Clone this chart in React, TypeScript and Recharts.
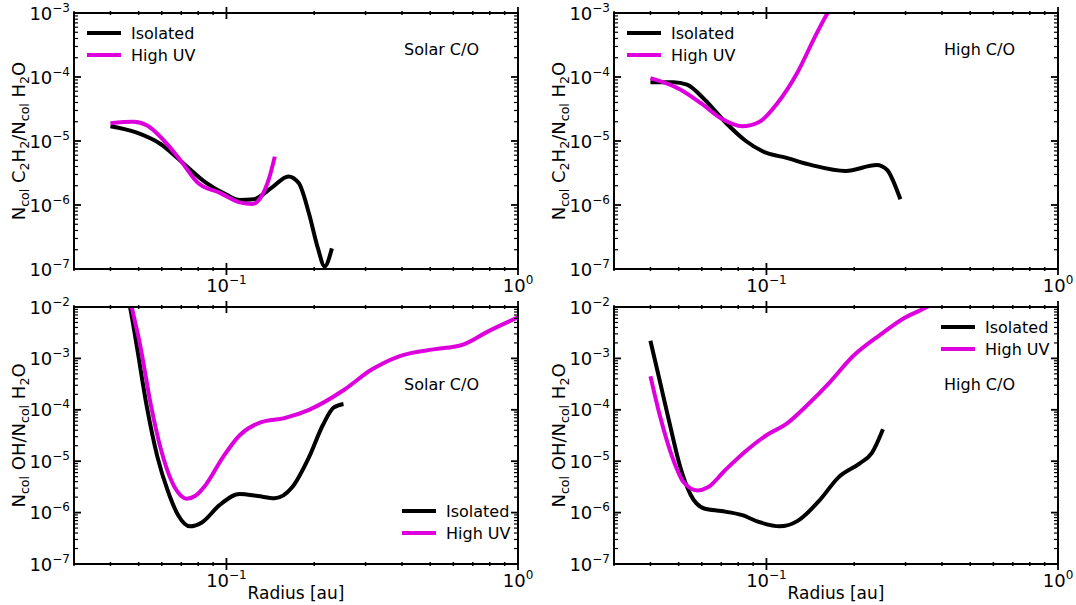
import React from "react";
import { LineChart, Line, XAxis, YAxis, Legend } from "recharts";

// radius [au] and column density ratios
// top left: C2H2 / H2O, solar C/O
const c2h2SolarIsoR = [0.04, 0.049, 0.0596, 0.07, 0.085, 0.1, 0.111, 0.124, 0.143, 0.163, 0.177, 0.192, 0.206, 0.217, 0.23];
const c2h2SolarIsoV = [1.7e-5, 1.36e-5, 8.9e-6, 4.8e-6, 2.24e-6, 1.45e-6, 1.2e-6, 1.23e-6, 1.87e-6, 2.8e-6, 2.2e-6, 7.3e-7, 2.1e-7, 1.1e-7, 2.1e-7];
const c2h2SolarUvR = [0.04, 0.048, 0.0535, 0.0612, 0.07, 0.08, 0.095, 0.111, 0.123, 0.131, 0.14, 0.1465];
const c2h2SolarUvV = [1.9e-5, 2.0e-5, 1.74e-5, 1.0e-5, 4.8e-6, 2.2e-6, 1.55e-6, 1.1e-6, 1.04e-6, 1.3e-6, 2.6e-6, 5.7e-6];

// top right: C2H2 / H2O, high C/O
const c2h2HighIsoR = [0.04, 0.048, 0.0534, 0.0612, 0.072, 0.085, 0.097, 0.118, 0.143, 0.187, 0.239, 0.26, 0.274, 0.288];
const c2h2HighIsoV = [8.3e-5, 8.3e-5, 7.6e-5, 4.5e-5, 2.0e-5, 1.0e-5, 6.9e-6, 5.4e-6, 4.2e-6, 3.4e-6, 4.2e-6, 3.5e-6, 2.2e-6, 1.23e-6];
const c2h2HighUvR = [0.04, 0.0506, 0.0596, 0.07, 0.0826, 0.0947, 0.109, 0.128, 0.1465, 0.162, 0.173];
const c2h2HighUvV = [9.6e-5, 6.4e-5, 3.9e-5, 2.24e-5, 1.7e-5, 2.0e-5, 3.9e-5, 1.2e-4, 4.2e-4, 1e-3, 1.65e-3];

// bottom left: OH / H2O, solar C/O
const ohSolarIsoR = [0.045, 0.0467, 0.0492, 0.0534, 0.058, 0.063, 0.0683, 0.075, 0.0826, 0.0947, 0.111, 0.128, 0.1465, 0.168, 0.192, 0.214, 0.233, 0.252];
const ohSolarIsoV = [2.5e-2, 1e-2, 1.8e-3, 1.1e-4, 1.2e-5, 2.6e-6, 8.9e-7, 5.4e-7, 6.5e-7, 1.4e-6, 2.3e-6, 2.1e-6, 1.9e-6, 3.1e-6, 1.2e-5, 5.0e-5, 1.1e-4, 1.3e-4];
const ohSolarUvR = [0.0455, 0.0473, 0.0506, 0.055, 0.0596, 0.0647, 0.07, 0.073, 0.078, 0.085, 0.0973, 0.111, 0.131, 0.158, 0.192, 0.252, 0.314, 0.391, 0.513, 0.638, 0.793, 1.0];
const ohSolarUvV = [2.5e-2, 1e-2, 1.8e-3, 1.28e-4, 1.7e-5, 4.2e-6, 2.1e-6, 1.86e-6, 2.1e-6, 3.5e-6, 1.2e-5, 3.2e-5, 5.7e-5, 6.9e-5, 1.0e-4, 2.4e-4, 6.0e-4, 1.1e-3, 1.5e-3, 1.8e-3, 3.4e-3, 6.3e-3];

// bottom right: OH / H2O, high C/O
const ohHighIsoR = [0.04, 0.043, 0.0467, 0.0506, 0.055, 0.0612, 0.07, 0.0826, 0.0947, 0.111, 0.128, 0.151, 0.177, 0.209, 0.23, 0.251];
const ohHighIsoV = [2.2e-3, 3.8e-4, 5.0e-5, 7.8e-6, 2.2e-6, 1.2e-6, 1.07e-6, 8.9e-7, 6.5e-7, 5.4e-7, 6.9e-7, 1.65e-6, 4.9e-6, 9.1e-6, 1.45e-5, 4.2e-5];
const ohHighUvR = [0.04, 0.043, 0.0479, 0.052, 0.058, 0.063, 0.072, 0.085, 0.1, 0.118, 0.139, 0.163, 0.198, 0.246, 0.297, 0.355, 0.4];
const ohHighUvV = [4.5e-4, 8.1e-5, 1.07e-5, 3.9e-6, 2.7e-6, 3.1e-6, 6.6e-6, 1.58e-5, 3.2e-5, 5.5e-5, 1.28e-4, 3.2e-4, 1.1e-3, 2.9e-3, 6.1e-3, 1e-2, 1.5e-2];

const xMajors = [0.01, 0.1, 1];
const c2h2Majors = [1e-7, 1e-6, 1e-5, 1e-4, 1e-3];
const ohMajors = [1e-7, 1e-6, 1e-5, 1e-4, 1e-3, 1e-2];

const seriesNames = ["Isolated", "High UV"];
const seriesColors = ["#000000", "#dd00dd"];

const zip = (r: number[], v: number[]) => r.map((x, i) => ({ x, y: v[i] }));

// majors plus the 2..9 minors in between, kept inside [lo, hi]
const logTicks = (majors: number[], lo: number, hi: number) => {
  const out: number[] = [];
  majors.forEach((m, i) => {
    out.push(m);
    if (i < majors.length - 1) for (let k = 2; k <= 9; k++) out.push(+(m * k).toPrecision(3));
  });
  return out.filter((t) => t >= lo * 0.9999 && t <= hi * 1.0001);
};

const isMajor = (v: number) => Math.abs(Math.log10(v) - Math.round(Math.log10(v))) < 1e-6;
const expOf = (v: number) => {
  const e = Math.round(Math.log10(v));
  return e < 0 ? "\u2212" + Math.abs(e) : String(e);
};

const TICK_FS = 18;
const SUP_FS = 12;
const TEXT_FS = 16;
const PLOT_BOTTOM = 269;

const LeftTick = ({ x, y, payload }: any) => {
  const major = isMajor(payload.value);
  return (
    <g>
      <line x1={x} x2={x + (major ? 7 : 4)} y1={y} y2={y} stroke="#000" strokeWidth={major ? 1.8 : 1.2} />
      {major && (
        <text x={x - 4} y={y + 6.5} textAnchor="end" fontSize={TICK_FS} fill="#000">
          10<tspan dy={-8} fontSize={SUP_FS}>{expOf(payload.value)}</tspan>
        </text>
      )}
    </g>
  );
};

const RightTick = ({ x, y, payload }: any) => {
  const major = isMajor(payload.value);
  return <line x1={x} x2={x - (major ? 7 : 4)} y1={y} y2={y} stroke="#000" strokeWidth={major ? 1.8 : 1.2} />;
};

const BottomTick = ({ x, y, payload }: any) => {
  const major = isMajor(payload.value);
  const h = major ? 6 : 2;
  return (
    <g>
      <line x1={x} x2={x} y1={y - h} y2={y + h} stroke="#000" strokeWidth={major ? 1.8 : 1.5} />
      {major && (
        <text x={x} y={y + 23} textAnchor="middle" fontSize={TICK_FS} fill="#000">
          10<tspan dy={-8} fontSize={SUP_FS}>{expOf(payload.value)}</tspan>
        </text>
      )}
    </g>
  );
};

const TopTick = ({ x, y, payload }: any) => {
  const major = isMajor(payload.value);
  const h = major ? 6 : 2;
  return <line x1={x} x2={x} y1={y - h} y2={y + h} stroke="#000" strokeWidth={major ? 1.8 : 1.5} />;
};

const LegendBox = ({ payload }: any) => {
  const items = [...(payload || [])].sort((a, b) => seriesNames.indexOf(a.value) - seriesNames.indexOf(b.value));
  return (
    <div style={{ fontSize: TEXT_FS, color: "#000" }}>
      {items.map((it: any) => (
        <div key={it.value} style={{ display: "flex", alignItems: "center", height: 22 }}>
          <span style={{ display: "inline-block", width: 34, height: 4, background: it.color, marginRight: 10 }} />
          <span>{it.value}</span>
        </div>
      ))}
    </div>
  );
};

const axisLine = { stroke: "#000", strokeWidth: 2, strokeLinecap: "square" as const };
const TITLE_FS = 18;
const sub = 12.6;
const subDy = 3.5;

interface PanelProps {
  left: number;
  top: number;
  height: number;
  plotTop: number;
  majors: number[];
  iso: { x: number; y: number }[];
  uv: { x: number; y: number }[];
  species: "c2h2" | "oh";
  note: string;
  noteTop: number;
  legendLeft: number;
  legendTop: number;
  xTitle: boolean;
}

const Panel = (p: PanelProps) => {
  const yLo = p.majors[0];
  const yHi = p.majors[p.majors.length - 1];
  const yTicks = logTicks(p.majors, yLo, yHi);
  const xTicks = logTicks(xMajors, 0.03, 1);
  const bottomH = p.height - PLOT_BOTTOM;

  const yTitle = () => {
    const cx = 25;
    const cy = (p.plotTop + PLOT_BOTTOM) / 2;
    return (
      <text x={cx} y={cy} transform={`rotate(-90, ${cx}, ${cy})`} textAnchor="middle" fontSize={TITLE_FS} fill="#000">
        N<tspan dy={subDy} fontSize={sub}>col</tspan>
        {p.species === "c2h2" ? (
          <>
            <tspan dy={-subDy}> C</tspan>
            <tspan dy={subDy} fontSize={sub}>2</tspan>
            <tspan dy={-subDy}>H</tspan>
            <tspan dy={subDy} fontSize={sub}>2</tspan>
            <tspan dy={-subDy}>/N</tspan>
          </>
        ) : (
          <tspan dy={-subDy}> OH/N</tspan>
        )}
        <tspan dy={subDy} fontSize={sub}>col</tspan>
        <tspan dy={-subDy}> H</tspan>
        <tspan dy={subDy} fontSize={sub}>2</tspan>
        <tspan dy={-subDy}>O</tspan>
      </text>
    );
  };

  const xTitle = ({ viewBox }: any) =>
    p.xTitle ? (
      <text x={viewBox.x + viewBox.width / 2} y={viewBox.y + 35} textAnchor="middle" fontSize={17} fill="#000">
        Radius [au]
      </text>
    ) : null;

  return (
    <div style={{ position: "absolute", left: p.left, top: p.top, width: 540, height: p.height }}>
      <LineChart width={540} height={p.height} margin={{ top: 0, right: 0, bottom: 0, left: 0 }}>
        <XAxis
          xAxisId="b"
          type="number"
          dataKey="x"
          scale="log"
          domain={[0.03, 1]}
          allowDataOverflow
          ticks={xTicks}
          interval={0}
          tickSize={0}
          tickMargin={0}
          tick={<BottomTick />}
          axisLine={axisLine}
          height={bottomH}
          label={xTitle}
        />
        <XAxis
          xAxisId="t"
          orientation="top"
          type="number"
          dataKey="x"
          scale="log"
          domain={[0.03, 1]}
          allowDataOverflow
          ticks={xTicks}
          interval={0}
          tickSize={0}
          tickMargin={0}
          tick={<TopTick />}
          axisLine={axisLine}
          height={p.plotTop}
        />
        <YAxis
          yAxisId="l"
          type="number"
          scale="log"
          domain={[yLo, yHi]}
          allowDataOverflow
          ticks={yTicks}
          interval={0}
          tickSize={0}
          tickMargin={0}
          tick={<LeftTick />}
          axisLine={axisLine}
          width={74}
          label={yTitle}
        />
        <YAxis
          yAxisId="r"
          orientation="right"
          type="number"
          scale="log"
          domain={[yLo, yHi]}
          allowDataOverflow
          ticks={yTicks}
          interval={0}
          tickSize={0}
          tickMargin={0}
          tick={<RightTick />}
          axisLine={axisLine}
          width={22}
        />
        <Legend
          layout="vertical"
          align="center"
          verticalAlign="middle"
          content={<LegendBox />}
          wrapperStyle={{ left: p.legendLeft, top: p.legendTop, width: 140 }}
        />
        <Line
          xAxisId="b"
          yAxisId="l"
          data={p.iso}
          dataKey="y"
          name={seriesNames[0]}
          type="monotone"
          stroke={seriesColors[0]}
          strokeWidth={4}
          dot={false}
          isAnimationActive={false}
        />
        <Line
          xAxisId="b"
          yAxisId="l"
          data={p.uv}
          dataKey="y"
          name={seriesNames[1]}
          type="monotone"
          stroke={seriesColors[1]}
          strokeWidth={4}
          dot={false}
          isAnimationActive={false}
        />
      </LineChart>
      <div style={{ position: "absolute", left: 404, top: p.noteTop, fontSize: TEXT_FS, lineHeight: "18px", color: "#000" }}>
        {p.note}
      </div>
    </div>
  );
};

export default function App() {
  return (
    <div style={{ position: "absolute", left: 0, top: 0, width: 1076, height: 605, background: "#fff", fontFamily: "'DejaVu Sans', sans-serif" }}>
      <Panel left={0} top={0} height={300} plotTop={13} majors={c2h2Majors} iso={zip(c2h2SolarIsoR, c2h2SolarIsoV)} uv={zip(c2h2SolarUvR, c2h2SolarUvV)} species="c2h2" note="Solar C/O" noteTop={41} legendLeft={87} legendTop={22} xTitle={false} />
      <Panel left={540} top={0} height={300} plotTop={13} majors={c2h2Majors} iso={zip(c2h2HighIsoR, c2h2HighIsoV)} uv={zip(c2h2HighUvR, c2h2HighUvV)} species="c2h2" note="High C/O" noteTop={41} legendLeft={87} legendTop={22} xTitle={false} />
      <Panel left={0} top={295} height={310} plotTop={12} majors={ohMajors} iso={zip(ohSolarIsoR, ohSolarIsoV)} uv={zip(ohSolarUvR, ohSolarUvV)} species="oh" note="Solar C/O" noteTop={81} legendLeft={402} legendTop={205} xTitle={true} />
      <Panel left={540} top={295} height={310} plotTop={12} majors={ohMajors} iso={zip(ohHighIsoR, ohHighIsoV)} uv={zip(ohHighUvR, ohHighUvV)} species="oh" note="High C/O" noteTop={81} legendLeft={401} legendTop={21} xTitle={true} />
    </div>
  );
}
